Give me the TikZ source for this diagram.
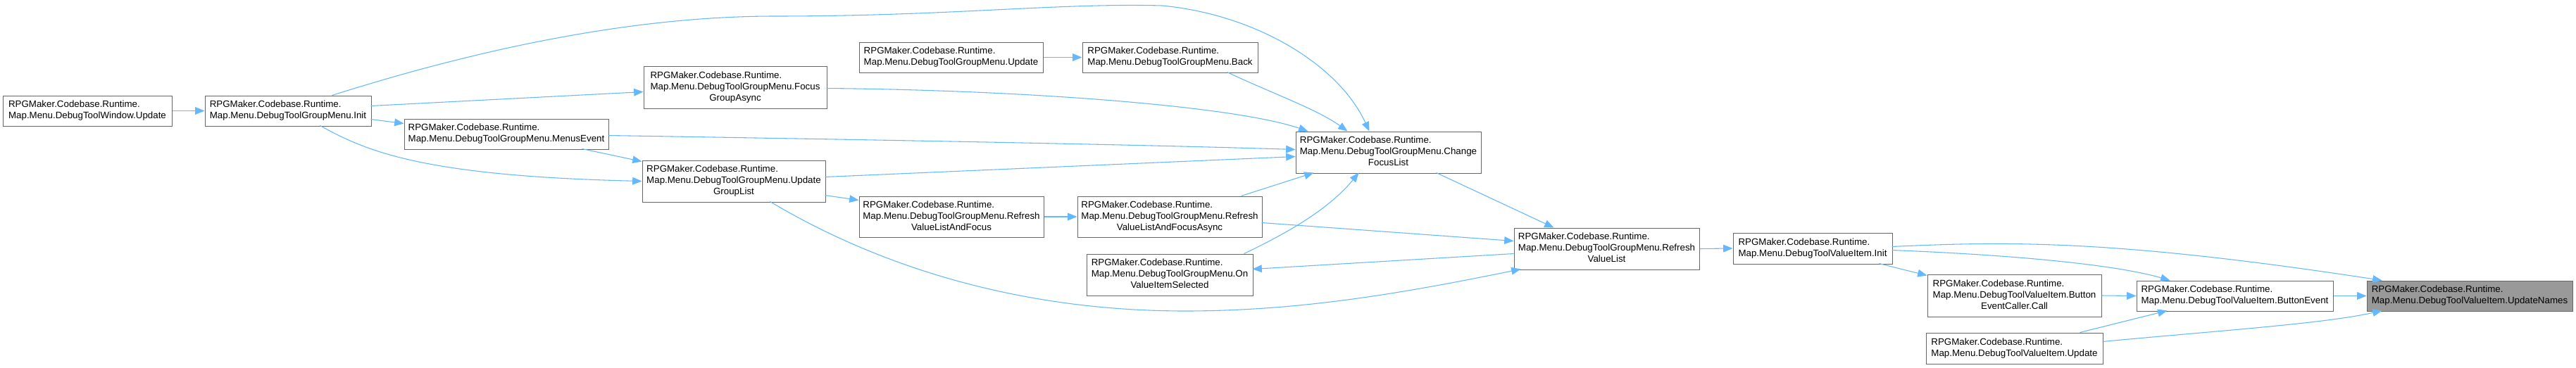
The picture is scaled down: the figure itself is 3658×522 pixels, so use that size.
\documentclass[tikz,border=0pt]{standalone}
\usepackage{fontspec}
\setmainfont{Liberation Sans}
\usetikzlibrary{arrows.meta}
\definecolor{edgec}{HTML}{63B8FF}
\definecolor{boxc}{HTML}{666666}
\definecolor{hl}{HTML}{999999}
\newcommand\twol[2]{\begin{tabular}{@{}l@{}}#1\\#2\end{tabular}}
\newcommand\threel[3]{\begin{tabular}{@{}l@{}}#1\\#2\\\multicolumn{1}{@{}c@{}}{#3}\end{tabular}}
\newcommand\bx[7][]{%
  \pgfmathsetmacro\bxw{(#5-#3)*0.75}%
  \pgfmathsetmacro\bxh{(#6-#4)*0.75}%
  \node[box,minimum width=\bxw pt,minimum height=\bxh pt,#1] (#2) at ({(#3+#5)/2},{(#4+#6)/2}) {#7};}
\tikzset{
  box/.style={draw=boxc, fill=white, line width=0.75pt, inner sep=0pt, font=\fontsize{10}{12}\selectfont},
  edge/.style={draw=edgec, line width=0.8pt, -{Triangle[length=10pt,width=8pt]}}
}
\begin{document}
\begin{tikzpicture}[x=0.75pt,y=-0.75pt]
\useasboundingbox[fill=white] (0,0) rectangle (3658,522);
\def\R{RPGMaker.Codebase.Runtime.}
\bx{winupd}{4}{136}{244}{179}{\twol{\R}{Map.Menu.DebugToolWindow.Update}}
\bx{init}{291}{136}{527}{179}{\twol{\R}{Map.Menu.DebugToolGroupMenu.Init}}
\bx{focus}{914}{94}{1174}{154}{\threel{\R}{Map.Menu.DebugToolGroupMenu.Focus}{GroupAsync}}
\bx{menus}{574}{169}{864}{212}{\twol{\R}{Map.Menu.DebugToolGroupMenu.MenusEvent}}
\bx{ugl}{912}{228}{1172}{287}{\threel{\R}{Map.Menu.DebugToolGroupMenu.Update}{GroupList}}
\bx{rvlf}{1220}{279}{1482}{337}{\threel{\R}{Map.Menu.DebugToolGroupMenu.Refresh}{ValueListAndFocus}}
\bx{rvlfa}{1530}{279}{1792}{337}{\threel{\R}{Map.Menu.DebugToolGroupMenu.Refresh}{ValueListAndFocusAsync}}
\bx{onval}{1543}{361}{1779}{420}{\threel{\R}{Map.Menu.DebugToolGroupMenu.On}{ValueItemSelected}}
\bx{gmupd}{1220}{60}{1481}{103}{\twol{\R}{Map.Menu.DebugToolGroupMenu.Update}}
\bx{back}{1537}{60}{1786}{103}{\twol{\R}{Map.Menu.DebugToolGroupMenu.Back}}
\bx{cfl}{1840}{187}{2103}{246}{\threel{\R}{Map.Menu.DebugToolGroupMenu.Change}{FocusList}}
\bx{rvl}{2150}{324}{2413}{383}{\threel{\R}{Map.Menu.DebugToolGroupMenu.Refresh}{ValueList}}
\bx{viinit}{2461}{331}{2687}{375}{\twol{\R}{Map.Menu.DebugToolValueItem.Init}}
\bx{caller}{2737}{390}{2984}{450}{\threel{\R}{Map.Menu.DebugToolValueItem.Button}{EventCaller.Call}}
\bx{bevent}{3034}{399}{3313}{442}{\twol{\R}{Map.Menu.DebugToolValueItem.ButtonEvent}}
\bx{viupd}{2735}{473}{2986}{517}{\twol{\R}{Map.Menu.DebugToolValueItem.Update}}
\bx[fill=hl]{names}{3361}{399}{3653}{442}{\twol{\R}{Map.Menu.DebugToolValueItem.UpdateNames}}

\draw[edge] (winupd.east) -- (init.west);
\draw[edge] ([shift={(181,0)}]init.north west) .. controls (600,95) and (850,23) .. (1100,23) .. controls (1350,23) and (1500,4) .. (1650,8) .. controls (1780,20) and (1900,90) .. ([shift={(105,0)}]cfl.north west);
\draw[edge] ([shift={(236,15)}]init.north west) -- ([shift={(0,37)}]focus.north west);
\draw[edge] ([shift={(236,34)}]init.north west) -- ([shift={(0,7)}]menus.north west);
\draw[edge] ([shift={(164,43)}]init.north west) .. controls (520,215) and (600,250) .. ([shift={(0,30)}]ugl.north west);
\draw[edge] ([shift={(253,43)}]menus.north west) -- ([shift={(0,2)}]ugl.north west);
\draw[edge] ([shift={(290,24)}]menus.north west) .. controls (1200,198) and (1600,205) .. ([shift={(0,26)}]cfl.north west);
\draw[edge] ([shift={(260,32)}]focus.north west) .. controls (1450,128) and (1750,150) .. ([shift={(18,0)}]cfl.north west);
\draw[edge] ([shift={(260,24)}]ugl.north west) -- ([shift={(0,36)}]cfl.north west);
\draw[edge] ([shift={(260,50)}]ugl.north west) -- ([shift={(0,6)}]rvlf.north west);
\draw[edge] ([shift={(182,59)}]ugl.north west) .. controls (1250,380) and (1450,442) .. (1683,442) .. controls (1850,442) and (2000,415) .. ([shift={(10,59)}]rvl.north west);
\draw[edge] (rvlf.east) -- (rvlfa.west);
\draw[edge] ([shift={(233,0)}]rvlfa.north west) -- ([shift={(26,59)}]cfl.north west);
\draw[edge] ([shift={(262,38)}]rvlfa.north west) -- ([shift={(0,19)}]rvl.north west);
\draw[edge] ([shift={(0,37)}]rvl.north west) -- ([shift={(236,22)}]onval.north west);
\draw[edge] ([shift={(224,0)}]onval.north west) .. controls (1820,335) and (1885,300) .. ([shift={(90,59)}]cfl.north west);
\draw[edge] (gmupd.east) -- (back.west);
\draw[edge] ([shift={(206,43)}]back.north west) .. controls (1800,130) and (1870,155) .. ([shift={(74,0)}]cfl.north west);
\draw[edge] ([shift={(200,59)}]cfl.north west) -- ([shift={(57,0)}]rvl.north west);
\draw[edge] (rvl.east) -- (viinit.west);
\draw[edge] ([shift={(226,20)}]viinit.north west) .. controls (2850,343) and (3000,340) .. ([shift={(22,0)}]names.north west);
\draw[edge] ([shift={(226,25)}]viinit.north west) .. controls (2850,362) and (3000,375) .. ([shift={(48,0)}]bevent.north west);
\draw[edge] ([shift={(208,44)}]viinit.north west) -- ([shift={(0,2)}]caller.north west);
\draw[edge] (caller.east) -- (bevent.west);
\draw[edge] (bevent.east) -- (names.west);
\draw[edge] ([shift={(219,0)}]viupd.north west) -- ([shift={(44,43)}]bevent.north west);
\draw[edge] ([shift={(251,13)}]viupd.north west) .. controls (3150,470) and (3300,460) .. ([shift={(22,43)}]names.north west);
\end{tikzpicture}
\end{document}
